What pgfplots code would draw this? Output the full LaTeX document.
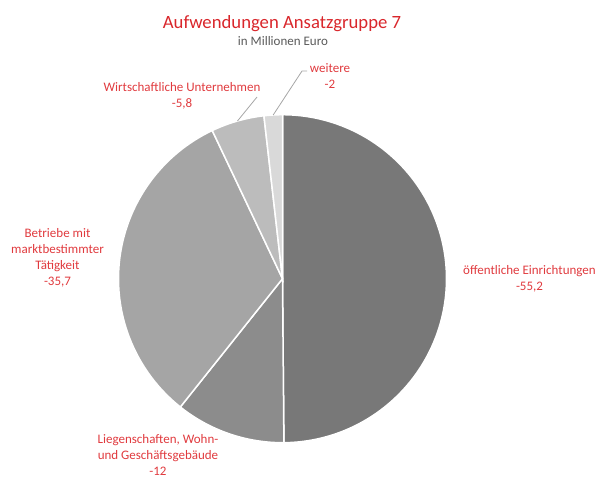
\documentclass[border=0pt]{standalone}
\usepackage{pgfplots}
\usepackage{pgfplotstable}
\pgfplotsset{compat=1.18}
\usepackage{fontspec}
\setmainfont{Carlito}
\definecolor{titlered}{HTML}{D9262B}
\definecolor{labred}{HTML}{E03A3E}
\definecolor{subgray}{HTML}{595959}
\definecolor{cA}{HTML}{787878}
\definecolor{cB}{HTML}{8C8C8C}
\definecolor{cC}{HTML}{A5A5A5}
\definecolor{cD}{HTML}{BCBCBC}
\definecolor{cE}{HTML}{D9D9D9}
\definecolor{leader}{HTML}{A6A6A6}

\pgfplotstableread{
name value
oeff 55.2
lieg 12
betr 35.7
wirt 5.8
weit 2
}\piedata
\pgfplotstablegetelem{0}{value}\of\piedata\let\vA\pgfplotsretval
\pgfplotstablegetelem{1}{value}\of\piedata\let\vB\pgfplotsretval
\pgfplotstablegetelem{2}{value}\of\piedata\let\vC\pgfplotsretval
\pgfplotstablegetelem{3}{value}\of\piedata\let\vD\pgfplotsretval
\pgfplotstablegetelem{4}{value}\of\piedata\let\vE\pgfplotsretval
\pgfmathsetmacro\tot{\vA+\vB+\vC+\vD+\vE}
\pgfmathsetmacro\eA{\vA/\tot*360}
\pgfmathsetmacro\eB{\eA+\vB/\tot*360}
\pgfmathsetmacro\eC{\eB+\vC/\tot*360}
\pgfmathsetmacro\eD{\eC+\vD/\tot*360}
\pgfmathsetmacro\mD{(\eC+\eD)/2}
\pgfmathsetmacro\mE{(\eD+360)/2}

\begin{document}
\begin{tikzpicture}
\path (0pt,0pt) rectangle (599pt,-480pt);
\node[anchor=base, text=titlered, font=\fontsize{18.7}{22}\selectfont, inner sep=0pt] at (282pt,-28pt) {Aufwendungen Ansatzgruppe 7};
\node[anchor=base, text=subgray, font=\fontsize{13}{15}\selectfont, inner sep=0pt] at (283pt,-45pt) {in Millionen Euro};
\begin{axis}[
  at={(282.5pt,-278.7pt)}, anchor=center,
  x=164pt, y=164pt,
  xmin=-1, xmax=1, ymin=-1, ymax=1,
  hide axis, clip=false,
]
\addplot[fill=cA, draw=white, line width=1.5pt, domain=0:\eA, samples=120] ({sin(x)},{cos(x)}) -- (axis cs:0,0) -- cycle;
\addplot[fill=cB, draw=white, line width=1.5pt, domain=\eA:\eB, samples=40] ({sin(x)},{cos(x)}) -- (axis cs:0,0) -- cycle;
\addplot[fill=cC, draw=white, line width=1.5pt, domain=\eB:\eC, samples=100] ({sin(x)},{cos(x)}) -- (axis cs:0,0) -- cycle;
\addplot[fill=cD, draw=white, line width=1.5pt, domain=\eC:\eD, samples=30] ({sin(x)},{cos(x)}) -- (axis cs:0,0) -- cycle;
\addplot[fill=cE, draw=white, line width=1.5pt, domain=\eD:360, samples=20] ({sin(x)},{cos(x)}) -- (axis cs:0,0) -- cycle;

% leader lines
\draw[leader, line width=0.8pt] (axis cs:{(307-282.5)/164},{(278.7-71)/164}) -- (axis cs:{(302-282.5)/164},{(278.7-71)/164}) -- (axis cs:{sin(\mE)},{cos(\mE)});
\draw[leader, line width=0.8pt] (axis cs:{(257-282.5)/164},{(278.7-97)/164}) -- (axis cs:{sin(\mD)},{cos(\mD)});

% labels
\begin{scope}[every node/.style={text=labred, align=center, inner sep=0pt, font=\fontsize{13}{16}\selectfont}]
\node at (axis cs:{(529.5-282.5)/164},{(278.7-279.3)/164}) {öffentliche Einrichtungen\\-55,2};
\node at (axis cs:{(158-282.5)/164},{(278.7-455)/164}) {Liegenschaften, Wohn-\\und Geschäftsgebäude\\-12};
\node at (axis cs:{(57.5-282.5)/164},{(278.7-258)/164}) {Betriebe mit\\marktbestimmter\\Tätigkeit\\-35,7};
\node at (axis cs:{(182-282.5)/164},{(278.7-96.3)/164}) {Wirtschaftliche Unternehmen\\-5,8};
\node at (axis cs:{(330-282.5)/164},{(278.7-76.3)/164}) {weitere\\-2};
\end{scope}
\end{axis}
\end{tikzpicture}
\end{document}
